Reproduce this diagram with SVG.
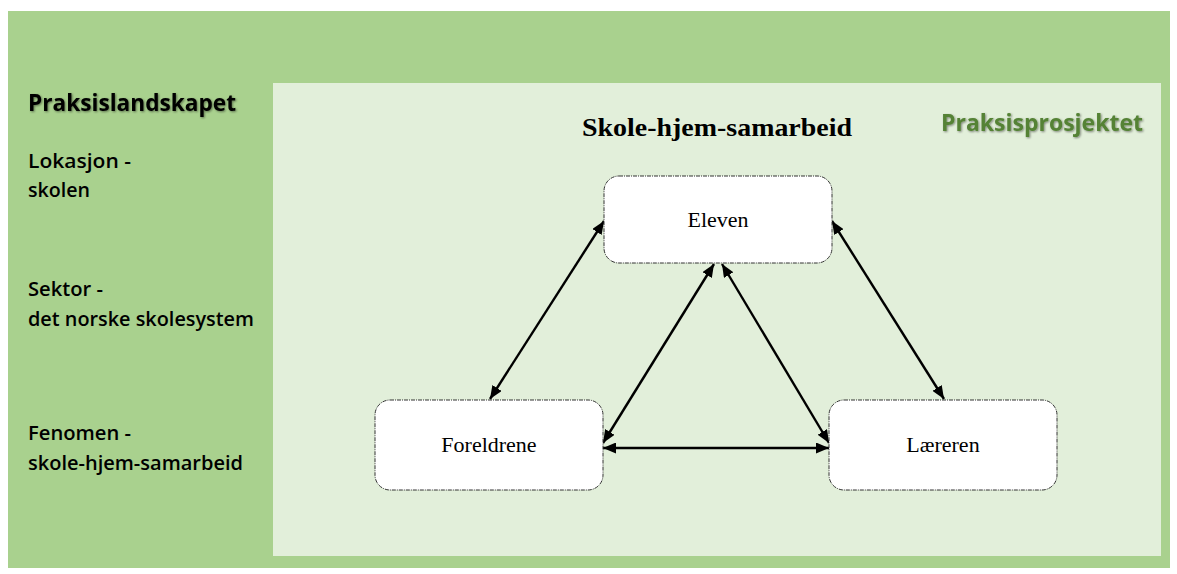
<svg xmlns="http://www.w3.org/2000/svg" width="1177" height="574" viewBox="0 0 1177 574">
<style>
.side{font-family:"Open Sans","Liberation Sans",sans-serif;font-weight:600;font-size:20px;fill:#000}
.node rect{fill:#fff;stroke:#333;stroke-width:1;stroke-dasharray:4 1 1 1}
.node text{font-family:"Liberation Serif",serif;font-size:22px;fill:#000;text-anchor:middle}
.conn line{stroke:#000;stroke-width:2.4;marker-start:url(#ah);marker-end:url(#ah)}
</style>
<defs>
<marker id="ah" viewBox="0 0 13 11" refX="13" refY="5.5" markerWidth="13" markerHeight="11" markerUnits="userSpaceOnUse" orient="auto-start-reverse">
<path d="M0,0 L13,5.5 L0,11 Z" fill="#000"/>
</marker>
<filter id="sh" x="-10%" y="-30%" width="120%" height="160%">
<feDropShadow dx="1" dy="1" stdDeviation="1.2" flood-color="#000" flood-opacity="0.45"/>
</filter>
</defs>
<rect width="1177" height="574" fill="#fff"/>
<rect id="outer" x="8" y="11" width="1162" height="557" fill="#a9d18e"/>
<rect id="inner" x="273" y="83" width="888" height="473" fill="#e2efda"/>
<g id="labels">
<text x="28" y="111" font-family="'Open Sans','Liberation Sans',sans-serif" font-weight="700" font-size="24" textLength="208" lengthAdjust="spacingAndGlyphs" filter="url(#sh)">Praksislandskapet</text>
<text class="side" x="28" y="168" textLength="103" lengthAdjust="spacingAndGlyphs">Lokasjon -</text>
<text class="side" x="28" y="197" textLength="62" lengthAdjust="spacingAndGlyphs">skolen</text>
<text class="side" x="28" y="296" textLength="75" lengthAdjust="spacingAndGlyphs">Sektor -</text>
<text class="side" x="28" y="326" textLength="226" lengthAdjust="spacingAndGlyphs">det norske skolesystem</text>
<text class="side" x="28" y="440" textLength="103" lengthAdjust="spacingAndGlyphs">Fenomen -</text>
<text class="side" x="28" y="470" textLength="215" lengthAdjust="spacingAndGlyphs">skole-hjem-samarbeid</text>
<text x="582" y="136" font-family="'Liberation Serif',serif" font-weight="700" font-size="26" textLength="270" lengthAdjust="spacingAndGlyphs">Skole-hjem-samarbeid</text>
<text x="941" y="131" font-family="'Open Sans','Liberation Sans',sans-serif" font-weight="700" font-size="23" fill="#548235" textLength="202" lengthAdjust="spacingAndGlyphs" filter="url(#sh)">Praksisprosjektet</text>
</g>
<g id="connectors" class="conn">
<line x1="604" y1="221" x2="490" y2="399"/>
<line x1="832" y1="221" x2="944" y2="399"/>
<line x1="714" y1="264" x2="603" y2="443"/>
<line x1="722" y1="264" x2="829" y2="443"/>
<line x1="603" y1="448" x2="829" y2="448"/>
</g>
<g id="node-eleven" class="node">
<rect x="604" y="176" width="228" height="87" rx="15"/>
<text x="718" y="227">Eleven</text>
</g>
<g id="node-foreldrene" class="node">
<rect x="375" y="400" width="228" height="90" rx="15"/>
<text x="489" y="452">Foreldrene</text>
</g>
<g id="node-lareren" class="node">
<rect x="829" y="400" width="228" height="90" rx="15"/>
<text x="943" y="452">Læreren</text>
</g>
</svg>
